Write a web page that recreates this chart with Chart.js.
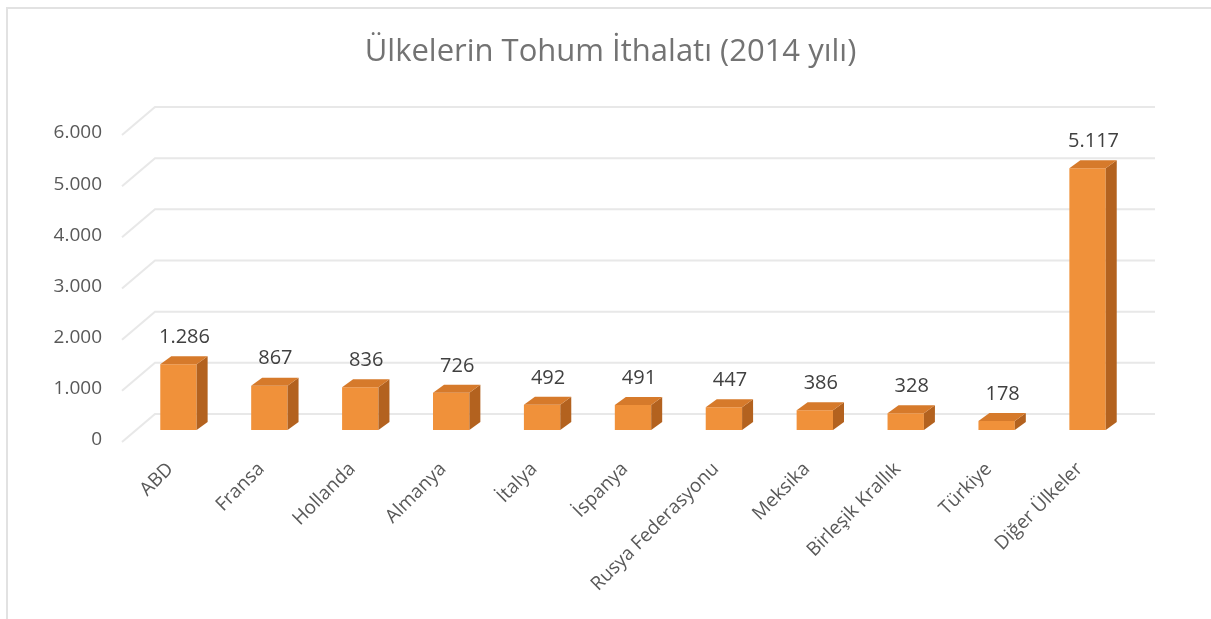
<!DOCTYPE html>
<html>
<head>
<meta charset="utf-8">
<script src="https://cdn.jsdelivr.net/npm/chart.js@4.4.1/dist/chart.umd.min.js"></script>
<style>
    html, body { margin: 0; padding: 0; background: #fff; }
    canvas { display: block; }
</style>
</head>
<body>
<canvas id="chart" width="1211" height="619"></canvas>
<script>
const chartTitle = 'Ülkelerin Tohum İthalatı (2014 yılı)';
const countries = ['ABD', 'Fransa', 'Hollanda', 'Almanya', 'İtalya', 'İspanya', 'Rusya Federasyonu', 'Meksika', 'Birleşik Krallık', 'Türkiye', 'Diğer Ülkeler'];
const imports = [1286, 867, 836, 726, 492, 491, 447, 386, 328, 178, 5117];
const yTicks = [0, 1000, 2000, 3000, 4000, 5000, 6000];

// 3d offsets
const depthX = 11, depthY = -8;
const wallX = 22, wallY = -16;
const floorX = -11, floorY = 12;

const fmt = (v) => String(v).replace(/\B(?=(\d{3})+(?!\d))/g, '.');

const box3d = {
    id: 'box3d',
    beforeDraw(chart) {
        const c = chart.ctx;
        c.save();
        c.fillStyle = '#fff';
        c.fillRect(0, 0, chart.width, chart.height);
        c.strokeStyle = '#e2e2e2';
        c.lineWidth = 2;
        c.beginPath();
        c.moveTo(7, chart.height);
        c.lineTo(7, 8);
        c.lineTo(chart.width, 8);
        c.stroke();

        // title, centred on the whole frame
        c.fillStyle = '#737373';
        c.font = '31px "Open Sans"';
        c.textAlign = 'center';
        c.textBaseline = 'middle';
        c.fillText(chartTitle, chart.width / 2 + 5, 52);
        c.restore();
    },
    beforeDatasetsDraw(chart) {
        const c = chart.ctx;
        const a = chart.chartArea;
        const y = chart.scales.y;
        c.save();
        c.strokeStyle = '#e8e8e8';
        c.lineWidth = 2;
        yTicks.forEach((v) => {
            const py = y.getPixelForValue(v);
            c.beginPath();
            c.moveTo(a.left + floorX, py + floorY);
            c.lineTo(a.left + wallX, py + wallY);
            c.lineTo(a.right + wallX, py + wallY);
            c.stroke();
        });
        c.restore();
    },
    afterDatasetsDraw(chart) {
        const c = chart.ctx;
        const values = chart.data.datasets[0].data;
        c.save();
        chart.getDatasetMeta(0).data.forEach((bar, i) => {
            const l = bar.x - bar.width / 2;
            const r = bar.x + bar.width / 2;
            const t = bar.y;
            const b = bar.base;

            c.fillStyle = '#b3621f';
            c.beginPath();
            c.moveTo(r, t);
            c.lineTo(r + depthX, t + depthY);
            c.lineTo(r + depthX, b + depthY);
            c.lineTo(r, b);
            c.closePath();
            c.fill();

            c.fillStyle = '#d67a2b';
            c.beginPath();
            c.moveTo(l, t);
            c.lineTo(l + depthX, t + depthY);
            c.lineTo(r + depthX, t + depthY);
            c.lineTo(r, t);
            c.closePath();
            c.fill();

            c.fillStyle = '#404040';
            c.font = '20px "Open Sans"';
            c.textAlign = 'center';
            c.textBaseline = 'middle';
            c.fillText(fmt(values[i]), bar.x + 6, t - 27);
        });
        c.restore();
    }
};

new Chart(document.getElementById('chart'), {
    type: 'bar',
    data: {
        labels: countries,
        datasets: [{
            data: imports,
            backgroundColor: '#f0913a',
            barPercentage: 0.4,
            categoryPercentage: 1
        }]
    },
    options: {
        responsive: false,
        animation: false,
        layout: {
            padding: { left: 0, right: 78, top: 123, bottom: 0 }
        },
        plugins: {
            legend: { display: false },
            tooltip: { enabled: false },
            title: { display: false }
        },
        scales: {
            x: {
                grid: { display: false, drawTicks: false },
                border: { display: false },
                ticks: {
                    color: '#595959',
                    font: { family: 'Open Sans', size: 19 },
                    minRotation: 45,
                    maxRotation: 45,
                    autoSkip: false,
                    padding: 28,
                    labelOffset: -8
                },
                afterFit(scale) {
                    scale.height = 189;
                }
            },
            y: {
                min: 0,
                max: 6000,
                grid: { display: false, drawTicks: false },
                border: { display: false },
                afterBuildTicks(scale) {
                    scale.ticks = yTicks.map((v) => ({ value: v }));
                },
                ticks: {
                    color: '#595959',
                    font: { family: 'Open Sans', size: 19 },
                    padding: 31,
                    labelOffset: 10,
                    callback: (v) => fmt(v)
                },
                afterFit(scale) {
                    scale.width = 133;
                }
            }
        }
    },
    plugins: [box3d]
});
</script>
</body>
</html>
